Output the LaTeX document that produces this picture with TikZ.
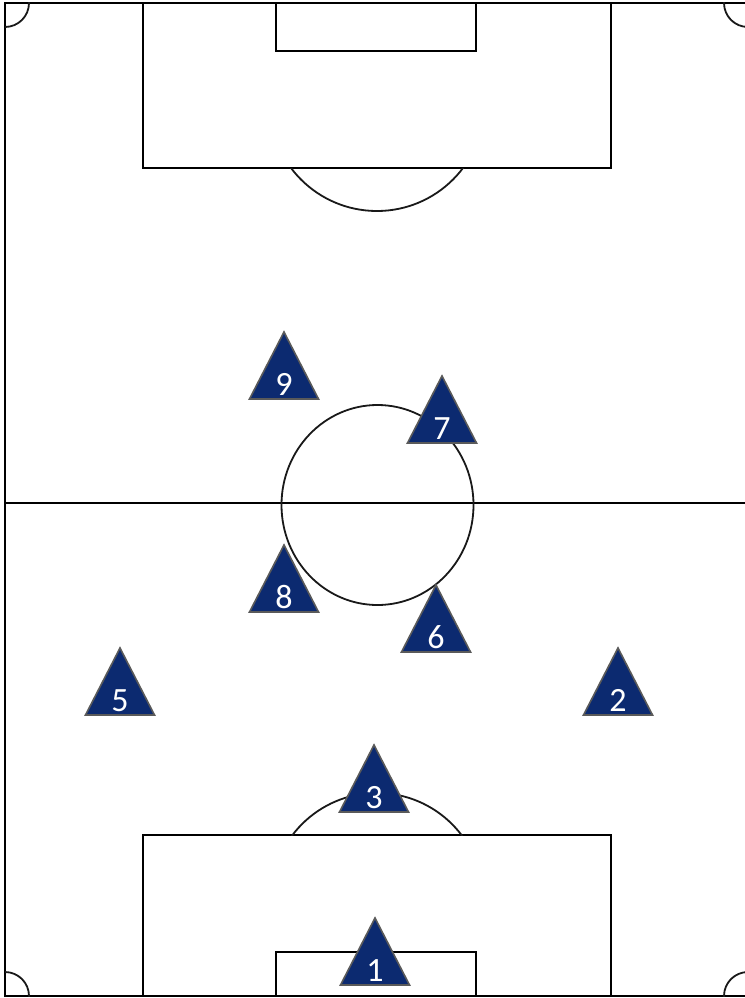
\documentclass[tikz,border=0pt]{standalone}
\usepackage{fontspec}
\setmainfont{Carlito}
\definecolor{navy}{RGB}{12,42,112}
\definecolor{tribord}{RGB}{90,90,90}
\tikzset{
  fieldline/.style={draw=black, line width=2.1pt},
  arcline/.style={draw=black!90, line width=1.8pt},
  player/.style={fill=navy, draw=tribord, line width=1.6pt, line join=miter},
  num/.style={text=white, font=\fontsize{34}{34}\selectfont, anchor=base, inner sep=0pt}
}
\begin{document}
\begin{tikzpicture}[x=1pt,y=-1pt]
\useasboundingbox (0,0) rectangle (744,998);
\fill[white] (0,0) rectangle (744,998);
% outer field
\draw[fieldline] (5,3) rectangle (748,996);
% halfway line
\draw[fieldline] (5,503) -- (748,503);
% penalty areas and goal areas
\draw[fieldline] (143,3) rectangle (611,168);
\draw[fieldline] (276,3) rectangle (476,51);
\draw[fieldline] (143,835) rectangle (611,996);
\draw[fieldline] (276,952) rectangle (476,996);
% penalty arcs
\begin{scope}
  \clip (0,168) rectangle (744,400);
  \draw[arcline] (377,103.5) circle [radius=107.5];
\end{scope}
\begin{scope}
  \clip (0,835) rectangle (744,600);
  \draw[arcline] (377,899) circle [radius=106];
\end{scope}
% centre circle
\draw[arcline] (377.5,505) ellipse [x radius=96, y radius=100];
% corner arcs
\begin{scope}
  \clip (5,3) rectangle (748,996);
  \draw[arcline] (5,3) circle [radius=24];
  \draw[arcline] (748,3) circle [radius=24];
  \draw[arcline] (5,996) circle [radius=24];
  \draw[arcline] (748,996) circle [radius=24];
\end{scope}
% players
\foreach \n/\x/\y in {9/284/332, 7/442/376, 8/284/545, 6/436/585, 5/120/648, 2/618/648, 3/374/745, 1/375/918}{
  \draw[player] (\x,\y) -- ++(34.5,67) -- ++(-69,0) -- cycle;
  \node[num] (p\n) at (\x,\y+63) {\n};
}
\end{tikzpicture}
\end{document}
